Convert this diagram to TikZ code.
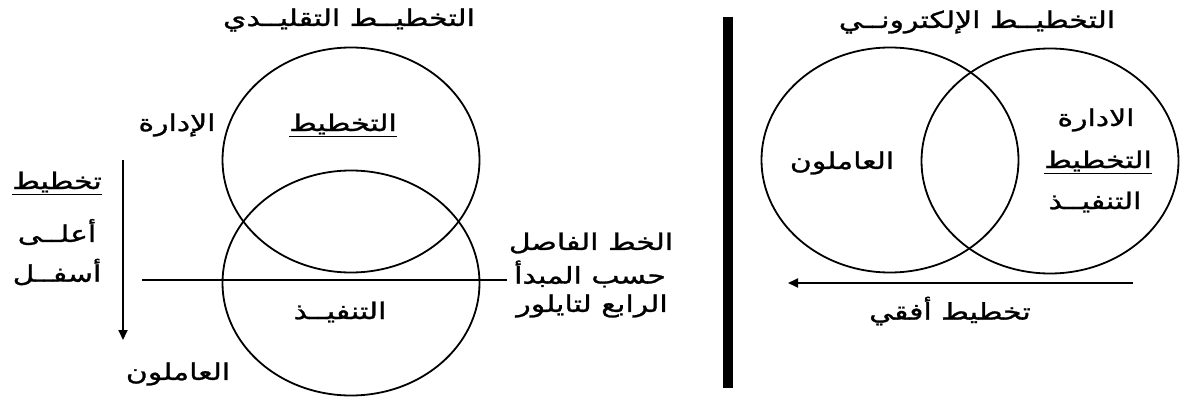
\documentclass[tikz,border=0pt]{standalone}
\usepackage{fontspec}
\usetikzlibrary{shapes.geometric,arrows.meta}
\TeXXeTstate=1
\newfontfamily\arabicfont[Script=Arabic,FakeStretch=1.3,FakeBold=1.2]{DejaVu Sans}
\tikzset{
  lbl/.style={font=\arabicfont\fontsize{23}{26}\selectfont, inner sep=0pt, anchor=center},
  circ/.style={draw, ellipse, line width=1.8pt, minimum width=257pt, minimum height=225pt, inner sep=0pt, outer sep=0pt},
  arr/.style={line width=1.8pt, -{Triangle[length=10pt,width=9pt]}},
  thin line/.style={line width=1.4pt},
  bar/.style={line width=10pt}
}
\begin{document}
\begin{tikzpicture}[x=1pt,y=-1pt]
\useasboundingbox (0,0) rectangle (1181,401);
% ---------- left: traditional planning ----------
\node[lbl] (tl) at (349,20) {\beginR التخطيــط التقليــدي\endR};
\node[circ] (up) at (351,160) {};
\node[circ] (lo) at (351,283) {};
\node[lbl] (plan) at (343,125) {\underline{\beginR التخطيط\endR}};
\node[lbl] (mgmt) at (177,125) {\beginR الإدارة\endR};
\node[lbl] (exec) at (340,312) {\beginR التنفيــذ\endR};
\node[lbl] (work) at (178,374) {\beginR العاملون\endR};
\node[lbl] (td1) at (57,183) {\underline{\beginR تخطيط\endR}};
\node[lbl] (td2) at (57,232) {\beginR أعلــى\endR};
\node[lbl] (td3) at (57,272) {\beginR أسفــل\endR};
\node[lbl] (s1) at (591,243) {\beginR الخط الفاصل\endR};
\node[lbl] (s2) at (590,274) {\beginR حسب المبدأ\endR};
\node[lbl] (s3) at (592,306) {\beginR الرابع لتايلور\endR};
\coordinate (hl) at (142,280);
\coordinate (hr) at (507,280);
\draw[thin line] (hl) -- (hr);
\coordinate (dtop) at (123,160);
\coordinate (dbot) at (123,340);
\draw[arr] (dtop) -- (dbot);
% ---------- divider ----------
\coordinate (bt) at (728,17);
\coordinate (bb) at (728,388);
\draw[bar] (bt) -- (bb);
% ---------- right: electronic planning ----------
\node[lbl] (tr) at (977,22) {\beginR التخطيــط الإلكترونــي\endR};
\node[circ] (cl) at (890,160) {};
\node[circ] (cr) at (1050,161) {};
\node[lbl] (rwork) at (842,163) {\beginR العاملون\endR};
\node[lbl] (rmgmt) at (1096,120) {\beginR الادارة\endR};
\node[lbl] (rplan) at (1098,162) {\underline{\beginR التخطيط\endR}};
\node[lbl] (rexec) at (1095,202) {\beginR التنفيــذ\endR};
\node[lbl] (horiz) at (950,311) {\beginR تخطيط أفقي\endR};
\coordinate (ha) at (1133,283);
\coordinate (hb) at (788,283);
\draw[arr] (ha) -- (hb);
\end{tikzpicture}
\end{document}
